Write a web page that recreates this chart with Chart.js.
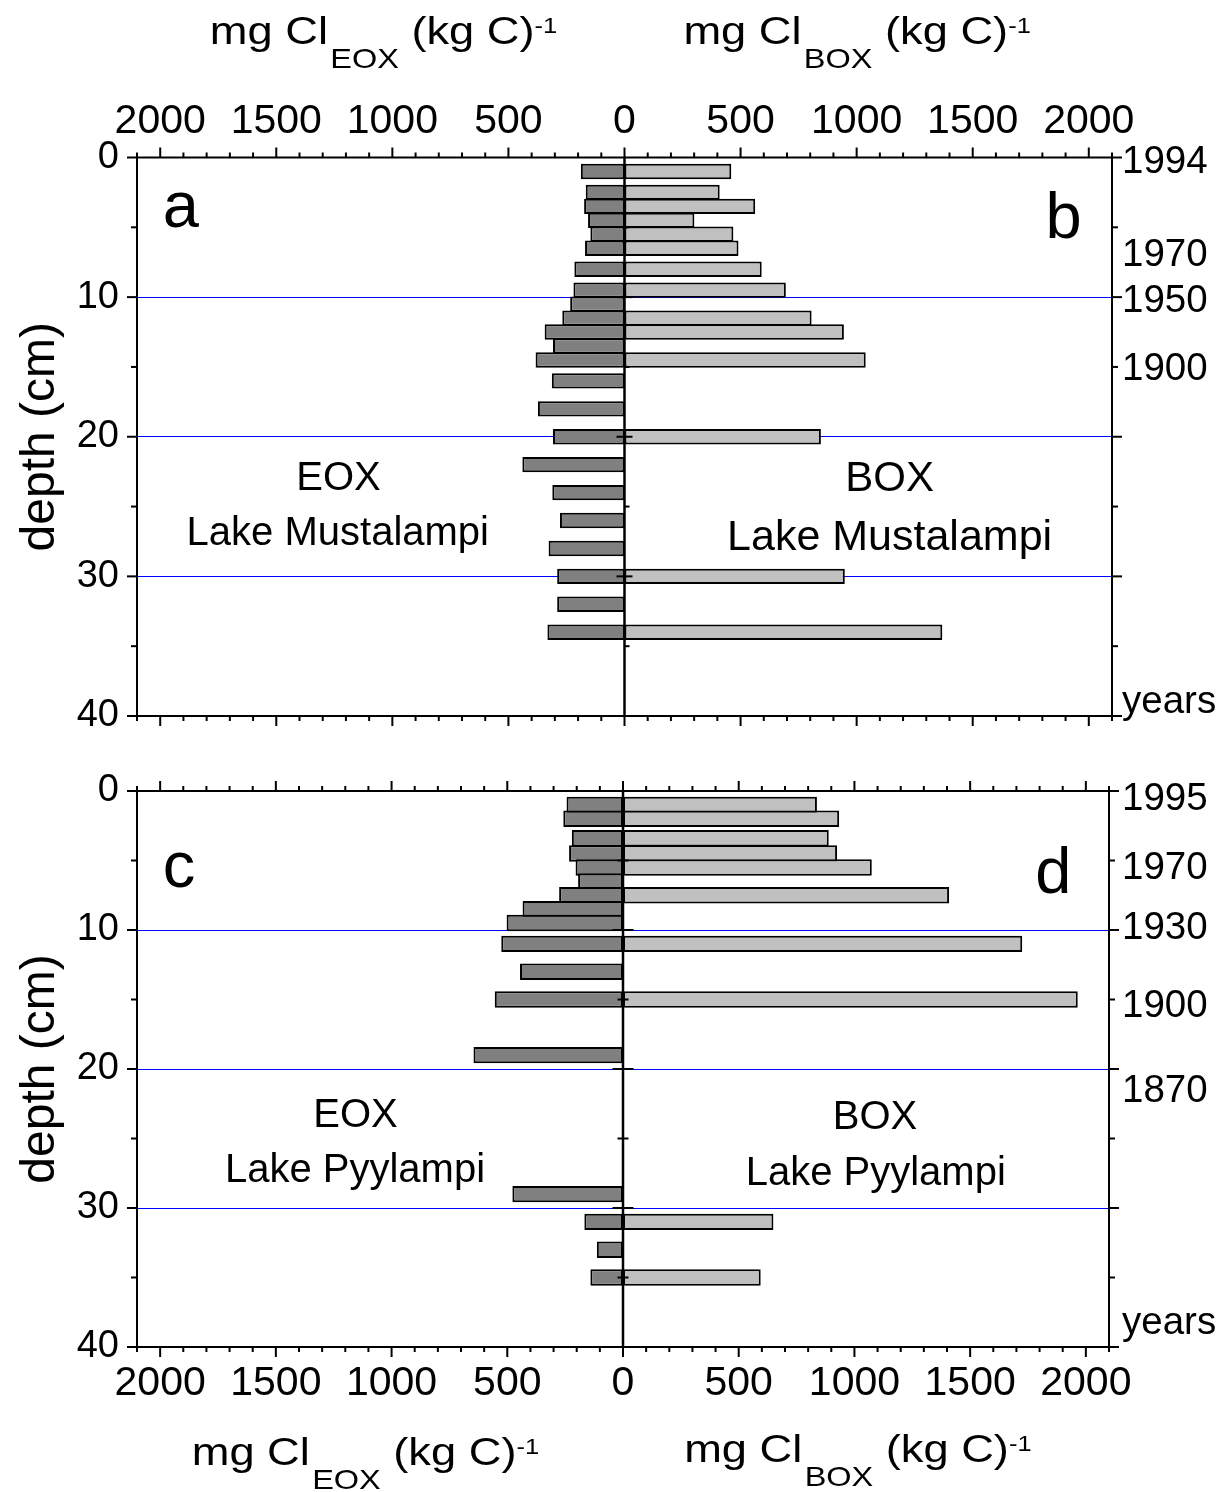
<!DOCTYPE html>
<html>
<head>
<meta charset="utf-8">
<script src="https://cdn.jsdelivr.net/npm/chart.js@4.4.1/dist/chart.umd.min.js"></script>
<style>
  html, body { margin: 0; padding: 0; background: #fff; }
  #wrap { position: relative; width: 1231px; height: 1492px; }
  canvas { position: absolute; left: 0; }
  #topChart { top: 0; }
  #bottomChart { top: 745px; }
</style>
</head>
<body>
<div id="wrap">
  <canvas id="topChart" width="1231" height="760"></canvas>
  <canvas id="bottomChart" width="1231" height="747"></canvas>
</div>
<script>
// ---- Lake Mustalampi core (panels a, b) ----
const mustEoxDepth = [1, 2.5, 3.5, 4.5, 5.5, 6.5, 8, 9.5, 10.5, 11.5, 12.5, 13.5, 14.5, 16, 18, 20, 22, 24, 26, 28, 30, 32, 34];
const mustEox      = [188, 167, 174, 157, 147, 170, 216, 220, 234, 268, 344, 308, 383, 313, 373, 308, 440, 311, 278, 327, 290, 290, 332];
const mustBoxDepth = [1, 2.5, 3.5, 4.5, 5.5, 6.5, 8, 9.5, 11.5, 12.5, 14.5, 20, 30, 34];
const mustBox      = [460, 410, 563, 301, 469, 491, 591, 695, 806, 945, 1039, 846, 949, 1369];
const mustYearDepth = [0.32, 7.0, 10.33, 15.14, 39.05];
const mustYearLabel = ['1994', '1970', '1950', '1900', 'years'];

// ---- Lake Pyylampi core (panels c, d) ----
const pyyEoxDepth = [1, 2, 3.4, 4.5, 5.5, 6.5, 7.5, 8.5, 9.5, 11, 13, 15, 19, 29, 31, 33, 35];
const pyyEox      = [244, 258, 221, 233, 205, 194, 276, 434, 503, 526, 445, 554, 646, 478, 167, 113, 141];
const pyyBoxDepth = [1, 2, 3.4, 4.5, 5.5, 7.5, 11, 15, 31, 35];
const pyyBox      = [838, 934, 889, 925, 1075, 1409, 1725, 1965, 650, 595];
const pyyYearDepth = [0.6, 5.56, 9.9, 15.5, 21.6, 38.3];
const pyyYearLabel = ['1995', '1970', '1930', '1900', '1870', 'years'];

// ---- axis layout ----
const VALUE_LIMIT = 2100;     // mg Cl (kg C)-1, each side of the centre
const VALUE_MINOR = 100, VALUE_MAJOR = 500;
const DEPTH_MAX = 40, DEPTH_MINOR = 5, DEPTH_MAJOR = 10;
const blueDepths = [10, 20, 30];

const FONT = "'Liberation Sans', Arial, Helvetica, sans-serif";
const EOX_FILL = '#808080';
const BOX_FILL = '#c0c0c0';

function drawUnitTitle(ctx, cx, baseline, sub) {
  const fMain = `39px ${FONT}`, fSub = `28px ${FONT}`, fSup = `22px ${FONT}`;
  const sx = 1.16;
  const p1 = 'mg Cl', p3 = ' (kg C)', p4 = '-1';
  ctx.save();
  ctx.font = fMain; const w1 = ctx.measureText(p1).width; const w3 = ctx.measureText(p3).width;
  ctx.font = fSub;  const w2 = ctx.measureText(sub).width;
  ctx.font = fSup;  const w4 = ctx.measureText(p4).width;
  const total = (w1 + w2 + w3 + w4 + 2) * sx;
  ctx.translate(cx - total / 2, baseline);
  ctx.scale(sx, 1);
  ctx.fillStyle = '#000';
  ctx.textAlign = 'left';
  ctx.textBaseline = 'alphabetic';
  let x = 0;
  ctx.font = fMain; ctx.fillText(p1, x, 0); x += w1;
  ctx.font = fSub;  ctx.fillText(sub, x + 2, 24); x += w2 + 2;
  ctx.font = fMain; ctx.fillText(p3, x, 0); x += w3;
  ctx.font = fSup;  ctx.fillText(p4, x, -11);
  ctx.restore();
}

// frame, tick marks, centre axis and the panel texts
function makeDecor(cfg) {
  return {
    id: 'decor',
    afterDatasetsDraw(chart) {
      const { ctx, chartArea: a, scales: { x, y } } = chart;
      const seg = (x1, y1, x2, y2) => { ctx.beginPath(); ctx.moveTo(x1, y1); ctx.lineTo(x2, y2); ctx.stroke(); };
      ctx.save();
      ctx.strokeStyle = '#000';
      ctx.lineCap = 'butt';
      const x0 = x.getPixelForValue(0);
      ctx.lineWidth = 2.5;
      seg(x0, a.top, x0, a.bottom);
      ctx.lineWidth = 2;
      ctx.strokeRect(a.left, a.top, a.right - a.left, a.bottom - a.top);
      for (let v = x.min; v <= x.max; v += VALUE_MINOR) {
        const px = x.getPixelForValue(v);
        const len = v % VALUE_MAJOR === 0 ? 10 : 5;
        seg(px, a.top, px, a.top - len);
        seg(px, a.bottom, px, a.bottom + len);
      }
      for (let d = y.min; d <= y.max; d += DEPTH_MINOR) {
        const py = y.getPixelForValue(d);
        const major = d % DEPTH_MAJOR === 0;
        const len = major ? 10 : 6;
        seg(a.left - len, py, a.left, py);
        seg(a.right, py, a.right + len, py);
        const atEnd = d === y.min || d === y.max;
        if (atEnd && !cfg.zeroEnds) continue;
        const [l, r] = major ? cfg.zeroMajor : cfg.zeroMinor;
        if (l || r) seg(x0 - l, py, x0 + r, py);
      }
      ctx.fillStyle = '#000';
      ctx.textAlign = 'center';
      ctx.textBaseline = 'alphabetic';
      for (const t of cfg.texts) {
        ctx.font = `${t.size}px ${FONT}`;
        ctx.fillText(t.text, x.getPixelForValue(t.x), y.getPixelForValue(t.y));
      }
      for (const t of cfg.titles) {
        drawUnitTitle(ctx, x.getPixelForValue(t.x), t.baseline, t.sub);
      }
      ctx.restore();
    }
  };
}

function makeChart(canvasId, p) {
  const barStyle = {
    borderColor: '#000',
    borderWidth: 2,
    borderSkipped: false,
    grouped: false,
    categoryPercentage: 1,
    barPercentage: p.barPercentage
  };
  return new Chart(document.getElementById(canvasId), {
    type: 'bar',
    data: {
      datasets: [
        Object.assign({
          label: 'EOX',
          data: p.eoxDepth.map((d, i) => ({ x: -p.eox[i], y: d })),
          backgroundColor: EOX_FILL
        }, barStyle),
        Object.assign({
          label: 'BOX',
          data: p.boxDepth.map((d, i) => ({ x: p.box[i], y: d })),
          backgroundColor: BOX_FILL
        }, barStyle)
      ]
    },
    options: {
      indexAxis: 'y',
      responsive: false,
      animation: false,
      devicePixelRatio: 1,
      layout: { padding: p.padding },
      plugins: { legend: { display: false }, tooltip: { enabled: false } },
      scales: {
        x: {
          type: 'linear',
          position: p.xPosition,
          min: -VALUE_LIMIT,
          max: VALUE_LIMIT,
          grid: { display: false, drawTicks: false },
          border: { display: false },
          ticks: {
            stepSize: VALUE_MINOR,
            autoSkip: false,
            maxRotation: 0,
            minRotation: 0,
            padding: p.xPadding,
            color: '#000',
            font: { family: FONT, size: 41 },
            callback: v => (v % VALUE_MAJOR === 0 ? String(Math.abs(v)) : '')
          },
          afterFit: s => { s.height = p.xHeight; }
        },
        y: {
          type: 'linear',
          position: 'left',
          reverse: true,
          offset: false,
          min: 0,
          max: DEPTH_MAX,
          grid: {
            offset: false,
            drawTicks: false,
            lineWidth: 1,
            color: c => (c.tick && blueDepths.includes(c.tick.value) ? '#0000ff' : 'rgba(0,0,0,0)')
          },
          border: { display: false },
          ticks: {
            stepSize: DEPTH_MAJOR,
            padding: 18,
            color: '#000',
            font: { family: FONT, size: 38 }
          },
          title: {
            display: true,
            text: 'depth (cm)',
            color: '#000',
            font: { family: FONT, size: 48 },
            padding: { top: 12, bottom: 0 }
          },
          afterFit: s => { s.width = 137; }
        },
        years: {
          type: 'linear',
          position: 'right',
          reverse: true,
          offset: false,
          min: 0,
          max: DEPTH_MAX,
          grid: { display: false, drawTicks: false, offset: false },
          border: { display: false },
          afterBuildTicks: s => { s.ticks = p.yearDepth.map(v => ({ value: v })); },
          ticks: {
            autoSkip: false,
            padding: p.yearPadding,
            color: '#000',
            font: { family: FONT, size: 38.5 },
            callback: (v, i) => p.yearLabel[i]
          },
          afterFit: s => { s.width = p.rightWidth; }
        }
      }
    },
    plugins: [makeDecor(p.decor)]
  });
}

makeChart('topChart', {
  eoxDepth: mustEoxDepth, eox: mustEox, boxDepth: mustBoxDepth, box: mustBox,
  yearDepth: mustYearDepth, yearLabel: mustYearLabel,
  barPercentage: 1.1,
  padding: { left: 0, right: 0, top: 0, bottom: 44 },
  xPosition: 'top', xHeight: 157.5, xPadding: 11,
  yearPadding: 10, rightWidth: 119,
  decor: {
    zeroMajor: [8, 8], zeroMinor: [0, 5], zeroEnds: false,
    texts: [
      { text: 'a', x: -1911, y: 4.98, size: 65 },
      { text: 'b', x: 1891, y: 5.77, size: 65 },
      { text: 'EOX', x: -1232, y: 23.8, size: 40 },
      { text: 'Lake Mustalampi', x: -1235, y: 27.75, size: 40 },
      { text: 'BOX', x: 1142, y: 23.86, size: 42 },
      { text: 'Lake Mustalampi', x: 1142, y: 28.1, size: 43 }
    ],
    titles: [
      { sub: 'EOX', x: -1038, baseline: 44 },
      { sub: 'BOX', x: 1002, baseline: 44 }
    ]
  }
});

makeChart('bottomChart', {
  eoxDepth: pyyEoxDepth, eox: pyyEox, boxDepth: pyyBoxDepth, box: pyyBox,
  yearDepth: pyyYearDepth, yearLabel: pyyYearLabel,
  barPercentage: 1.18,
  padding: { left: 0, right: 0, top: 46, bottom: 0 },
  xPosition: 'bottom', xHeight: 145, xPadding: 12,
  yearPadding: 13, rightWidth: 122,
  decor: {
    zeroMajor: [10.5, 10.5], zeroMinor: [5.5, 5.5], zeroEnds: true,
    texts: [
      { text: 'c', x: -1918, y: 6.93, size: 65 },
      { text: 'd', x: 1859, y: 7.36, size: 65 },
      { text: 'EOX', x: -1156, y: 24.15, size: 40 },
      { text: 'Lake Pyylampi', x: -1158, y: 28.1, size: 40 },
      { text: 'BOX', x: 1089, y: 24.34, size: 40 },
      { text: 'Lake Pyylampi', x: 1092, y: 28.35, size: 40 }
    ],
    titles: [
      { sub: 'EOX', x: -1113, baseline: 720 },
      { sub: 'BOX', x: 1015, baseline: 717 }
    ]
  }
});
</script>
</body>
</html>
